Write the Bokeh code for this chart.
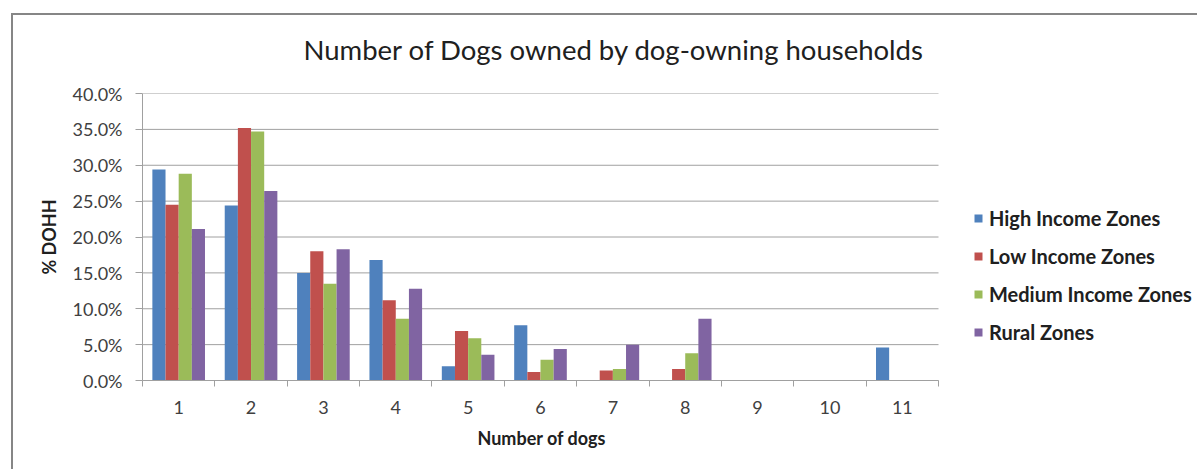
from bokeh.plotting import figure
from bokeh.models import (ColumnDataSource, FixedTicker, NumeralTickFormatter,
                          Legend, LegendItem, Title)
from bokeh.transform import dodge
from bokeh.embed import file_html
from bokeh.resources import INLINE

# ---------------- data ----------------
dogs = [1, 2, 3, 4, 5, 6, 7, 8, 9, 10, 11]
high_income = [0.294, 0.244, 0.150, 0.168, 0.020, 0.077, 0.0, 0.0, 0.0, 0.0, 0.046]
low_income = [0.245, 0.352, 0.180, 0.112, 0.069, 0.012, 0.014, 0.016, 0.0, 0.0, 0.0]
medium_income = [0.288, 0.347, 0.135, 0.086, 0.059, 0.029, 0.016, 0.038, 0.0, 0.0, 0.0]
rural = [0.211, 0.264, 0.183, 0.128, 0.036, 0.044, 0.050, 0.086, 0.0, 0.0, 0.0]
series_names = ["High Income Zones", "Low Income Zones", "Medium Income Zones", "Rural Zones"]
series_keys = ["high", "low", "medium", "rural"]
colors = ["#4F81BD", "#C0504D", "#9BBB59", "#8064A2"]
y_ticks = [0.0, 0.05, 0.10, 0.15, 0.20, 0.25, 0.30, 0.35, 0.40]
x_boundaries = [d - 0.5 for d in dogs] + [dogs[-1] + 0.5]
title_text = "Number of Dogs owned by dog-owning households"
x_label = "Number of dogs"
y_label = "% DOHH"

source = ColumnDataSource(dict(x=dogs, high=high_income, low=low_income,
                               medium=medium_income, rural=rural))

FONT = "Lato"
TEXT = "#404040"
DARK = "#202020"
GRID = "#a0a0a0"

# layout (page pixels)
PAGE_W, PAGE_H = 1199, 471
OFF_X, OFF_Y = 13, 15            # figure sits inside the chart's outer frame (CSS border)
PLOT_L, PLOT_R, PLOT_T, PLOT_B = 142, 938, 93, 380
x_lo, x_hi = dogs[0] - 0.5, dogs[-1] + 0.5
# frame extends to the right page edge so the legend is not clipped;
# the data area keeps its own extent through axis bounds
x_end = x_lo + (x_hi - x_lo) * (PAGE_W - PLOT_L) / (PLOT_R - PLOT_L)

p = figure(width=PAGE_W - OFF_X, height=PAGE_H - OFF_Y, output_backend="svg",
           toolbar_location=None,
           x_range=(x_lo, x_end), y_range=(y_ticks[0], y_ticks[-1]),
           min_border_left=PLOT_L - OFF_X, min_border_right=0,
           min_border_top=PLOT_T - OFF_Y, min_border_bottom=PAGE_H - PLOT_B)
p.margin = (OFF_Y - 2, 0, 0, OFF_X - 2)
p.styles = {"border-left": "2px solid #868686", "border-top": "2px solid #868686"}
p.outline_line_color = None
p.background_fill_color = "white"
p.border_fill_color = "white"

# horizontal gridlines limited to the plot area
p.xgrid.grid_line_color = None
p.ygrid.grid_line_color = None
grid_src = ColumnDataSource(dict(y=y_ticks, x0=[x_lo] * len(y_ticks), x1=[x_hi] * len(y_ticks)))
p.segment(x0="x0", x1="x1", y0="y", y1="y", source=grid_src,
          line_color=GRID, line_width=1, level="underlay")

bar_w = 1.0 / 5.5
offsets = [-1.5 * bar_w, -0.5 * bar_w, 0.5 * bar_w, 1.5 * bar_w]
renderers = []
for key, col, off in zip(series_keys, colors, offsets):
    r = p.vbar(x=dodge("x", off, range=p.x_range), top=key, width=bar_w,
               source=source, fill_color=col, line_color=None)
    renderers.append(r)

# title
p.title.text = title_text
p.title.align = "left"
p.title.offset = 161
p.title.vertical_align = "top"
p.title.text_font = FONT
p.title.text_font_size = "27.5px"
p.title.text_font_style = "normal"
p.title.text_color = DARK
p.title.standoff = 30

# spacer between the title and the plot area
spacer = Title(text=" ", text_font_size="8px", standoff=0)
p.add_layout(spacer, "above")

# axes
yax = p.yaxis[0]
yax.ticker = FixedTicker(ticks=y_ticks)
yax.formatter = NumeralTickFormatter(format="0.0%")
yax.major_label_text_font = FONT
yax.major_label_text_font_size = "18px"
yax.major_label_text_color = TEXT
yax.major_label_standoff = 13
yax.major_tick_out = 7
yax.major_tick_in = 0
yax.minor_tick_line_color = None
yax.axis_line_color = GRID
yax.major_tick_line_color = GRID
yax.axis_label = y_label
yax.axis_label_text_font = FONT
yax.axis_label_text_font_size = "18px"
yax.axis_label_text_font_style = "bold"
yax.axis_label_text_color = DARK
yax.axis_label_standoff = 10

xax = p.xaxis[0]
xax.bounds = (x_lo, x_hi)
xax.ticker = FixedTicker(ticks=dogs, minor_ticks=x_boundaries)
xax.major_label_text_font = FONT
xax.major_label_text_font_size = "18px"
xax.major_label_text_color = TEXT
xax.major_tick_out = 0
xax.major_tick_in = 0
xax.minor_tick_out = 6
xax.minor_tick_in = 0
xax.minor_tick_line_color = GRID
xax.axis_line_color = GRID
xax.major_label_standoff = 14

# x axis title, centred under the bars (not under the extended frame)
xt = Title(text=x_label, align="left", offset=477 - PLOT_L, vertical_align="top",
           standoff=21, text_font=FONT, text_font_size="18px",
           text_font_style="bold", text_color=DARK)
p.add_layout(xt, "below")

# legend (inside the extended frame, right of the bars)
legend = Legend(items=[LegendItem(label=n, renderers=[r]) for n, r in zip(series_names, renderers)],
                location=(973 - PLOT_L, PLOT_B - 344), orientation="vertical")
legend.glyph_width = 10
legend.glyph_height = 10
legend.label_standoff = 6
legend.label_height = 20
legend.spacing = 14
legend.padding = 0
legend.margin = 0
legend.border_line_color = None
legend.background_fill_alpha = 0
legend.label_text_font = FONT
legend.label_text_font_size = "20px"
legend.label_text_font_style = "bold"
legend.label_text_color = DARK
p.add_layout(legend, "center")

open("out.html", "w").write(file_html(p, INLINE))
